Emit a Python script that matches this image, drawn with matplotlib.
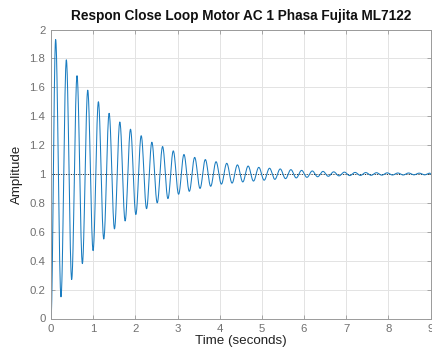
import numpy as np
import matplotlib
matplotlib.use("Agg")
import matplotlib.pyplot as plt

# Extrema of the step response (time in s, amplitude)
start_time = 0.0
start_value = 0.0
extrema_times = [
    0.110, 0.237, 0.364, 0.490, 0.617, 0.744, 0.871, 0.998, 1.124, 1.251,
    1.378, 1.505, 1.632, 1.758, 1.885, 2.012, 2.139, 2.266, 2.392, 2.519,
    2.646, 2.773, 2.900, 3.026, 3.153, 3.280, 3.407, 3.534, 3.660, 3.787,
    3.914, 4.041, 4.168, 4.294, 4.421, 4.548, 4.675, 4.802, 4.928, 5.055,
    5.182, 5.309, 5.436, 5.562, 5.689, 5.816, 5.943, 6.070, 6.196, 6.323,
    6.450, 6.577, 6.704, 6.830, 6.957, 7.084, 7.211, 7.338, 7.464, 7.591,
    7.718, 7.845, 7.972, 8.098, 8.225, 8.352, 8.479, 8.606, 8.732, 8.859,
    8.986, 9.000,
]
extrema_values = [
    1.93, 0.15, 1.79, 0.27, 1.68, 0.38, 1.58, 0.47, 1.50, 0.55,
    1.42, 0.62, 1.36, 0.675, 1.31, 0.72, 1.265, 0.76, 1.22, 0.80,
    1.19, 0.83, 1.16, 0.86, 1.135, 0.88, 1.115, 0.90, 1.10, 0.915,
    1.085, 0.93, 1.074, 0.937, 1.063, 0.945, 1.055, 0.951, 1.046, 0.957,
    1.040, 0.963, 1.035, 0.968, 1.030, 0.973, 1.025, 0.977, 1.021, 0.981,
    1.018, 0.984, 1.015, 0.987, 1.013, 0.989, 1.011, 0.990, 1.010, 0.991,
    1.009, 0.992, 1.008, 0.993, 1.007, 0.993, 1.007, 0.994, 1.006, 0.994,
    1.006, 1.000,
]
steady_state = 1.0
x_ticks = [0, 1, 2, 3, 4, 5, 6, 7, 8, 9]
y_ticks = [0, 0.2, 0.4, 0.6, 0.8, 1.0, 1.2, 1.4, 1.6, 1.8, 2.0]
y_tick_labels = ["0", "0.2", "0.4", "0.6", "0.8", "1", "1.2", "1.4", "1.6", "1.8", "2"]
title = "Respon Close Loop Motor AC 1 Phasa Fujita ML7122"
x_label = "Time (seconds)"
y_label = "Amplitude"

# Smooth half-cosine shaping between successive read extrema
ts = [start_time] + extrema_times
vs = [start_value] + extrema_values
tt, yy = [], []
for i in range(len(ts) - 1):
    s = np.linspace(0, 1, 24, endpoint=False)
    tt.append(ts[i] + (ts[i + 1] - ts[i]) * s)
    yy.append(vs[i] + (vs[i + 1] - vs[i]) * (1 - np.cos(np.pi * s)) / 2)
tt.append([ts[-1]])
yy.append([vs[-1]])
t = np.concatenate(tt)
y = np.concatenate(yy)

plt.rcParams['font.family'] = ['Liberation Sans', 'DejaVu Sans']

fig = plt.figure(figsize=(4.32, 3.58), dpi=100)
ax = fig.add_axes([51 / 432, 1 - 318.5 / 358, (430.5 - 51) / 432, (318.5 - 29.5) / 358])

ax.grid(True, color='#e3e3e3', linewidth=0.7)
ax.set_axisbelow(True)
ax.plot([0, 9], [steady_state, steady_state], linestyle=(0, (1, 1.5)), color='#222222', linewidth=0.7)
ax.plot(t, y, color='#1a7cc0', linewidth=0.75)

ax.set_xlim(0, 9)
ax.set_ylim(0, 2)
ax.set_xticks(x_ticks)
ax.set_yticks(y_ticks)
ax.set_yticklabels(y_tick_labels)
ax.tick_params(direction='in', length=3, width=0.6, colors='#9a9a9a', labelcolor='#707070',
               labelsize=8.2, top=True, right=True, pad=4)
for sp in ax.spines.values():
    sp.set_color('#9a9a9a')
    sp.set_linewidth(0.7)

ax.set_title(title, fontsize=9.8, fontweight='bold', color='#111111', pad=7)
ax.set_xlabel(x_label, fontsize=9.6, color='#222222', labelpad=1)
ax.set_ylabel(y_label, fontsize=9.6, color='#222222', labelpad=5)

fig.savefig("out.png", dpi=100)
